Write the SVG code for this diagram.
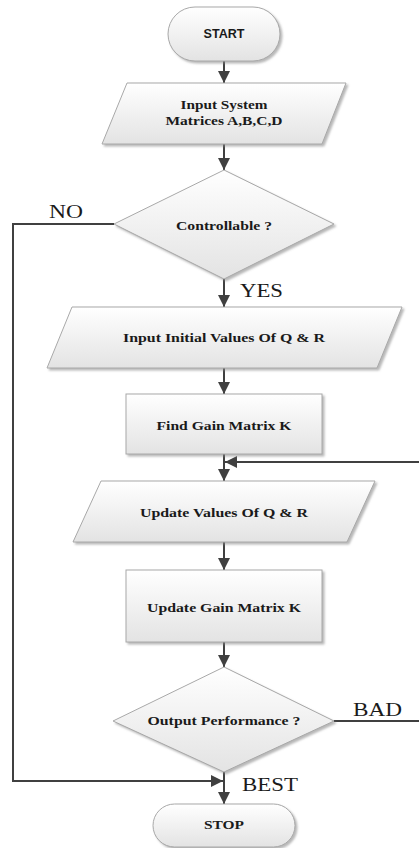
<svg xmlns="http://www.w3.org/2000/svg" width="419" height="848" viewBox="0 0 419 848">
<style>
.shape{fill:url(#g);stroke:#a8a8a8;stroke-width:1;filter:url(#sh)}
.t{font-family:"Liberation Serif","Times New Roman",serif;font-weight:bold;font-size:12px;fill:#1a1a1a;text-anchor:middle}
.ts{font-family:"Liberation Sans",Arial,sans-serif;font-weight:bold;font-size:12px;fill:#1a1a1a;text-anchor:middle}
.lbl{font-family:"Liberation Serif","Times New Roman",serif;font-size:19.5px;fill:#1a1a1a}
.c{fill:none;stroke:#404040;stroke-width:2}
</style>
<defs>
<linearGradient id="g" x1="0" y1="0" x2="0" y2="1">
<stop offset="0" stop-color="#ffffff"/>
<stop offset="1" stop-color="#e3e3e3"/>
</linearGradient>
<filter id="sh" x="-10%" y="-10%" width="130%" height="130%">
<feDropShadow dx="2" dy="2" stdDeviation="1.2" flood-color="#888" flood-opacity="0.6"/>
</filter>
<marker id="ah" markerUnits="userSpaceOnUse" markerWidth="12" markerHeight="12" viewBox="0 0 12 12" refX="12" refY="6" orient="auto">
<path d="M0,0 L12,6 L0,12 z" fill="#404040"/>
</marker>
</defs>

<g id="connectors">
<path class="c" d="M224,61 V83" marker-end="url(#ah)"/>
<path class="c" d="M224,144 V170" marker-end="url(#ah)"/>
<path class="c" d="M224,279 V307" marker-end="url(#ah)"/>
<path class="c" d="M224,368 V394" marker-end="url(#ah)"/>
<path class="c" d="M224,454 V481" marker-end="url(#ah)"/>
<path class="c" d="M224,542 V570" marker-end="url(#ah)"/>
<path class="c" d="M224,642 V667" marker-end="url(#ah)"/>
<path class="c" d="M224,772 V804" marker-end="url(#ah)"/>
<path class="c" d="M114,224 H13 V781 H223" marker-end="url(#ah)"/>
<path class="c" d="M334,721 H422 V462 H225" marker-end="url(#ah)"/>
<text class="lbl" x="49" y="218" textLength="34" lengthAdjust="spacingAndGlyphs">NO</text>
<text class="lbl" x="240" y="297" textLength="43" lengthAdjust="spacingAndGlyphs">YES</text>
<text class="lbl" x="353" y="716" textLength="49" lengthAdjust="spacingAndGlyphs">BAD</text>
<text class="lbl" x="242" y="791" textLength="56" lengthAdjust="spacingAndGlyphs">BEST</text>
</g>

<g id="start">
<rect class="shape" x="168" y="7" width="112" height="54" rx="27"/>
<text class="ts" x="224" y="38" textLength="41" lengthAdjust="spacingAndGlyphs">START</text>
</g>

<g id="input-system">
<polygon class="shape" points="127,83 346,83 322,144 102,144"/>
<text class="t" x="224" y="109" textLength="87" lengthAdjust="spacingAndGlyphs">Input System</text>
<text class="t" x="224" y="125" textLength="117" lengthAdjust="spacingAndGlyphs">Matrices A,B,C,D</text>
</g>

<g id="controllable">
<polygon class="shape" points="224,170 334,224 224,279 114,224"/>
<text class="t" x="224" y="230" textLength="96" lengthAdjust="spacingAndGlyphs">Controllable ?</text>
</g>

<g id="input-initial">
<polygon class="shape" points="72,307 402,307 377,368 47,368"/>
<text class="t" x="224" y="342" textLength="202" lengthAdjust="spacingAndGlyphs">Input Initial Values Of Q &amp; R</text>
</g>

<g id="find-gain">
<rect class="shape" x="126" y="394" width="196" height="60"/>
<text class="t" x="224" y="430" textLength="135" lengthAdjust="spacingAndGlyphs">Find Gain Matrix K</text>
</g>

<g id="update-values">
<polygon class="shape" points="101,481 375,481 347,542 73,542"/>
<text class="t" x="224" y="517" textLength="168" lengthAdjust="spacingAndGlyphs">Update Values Of Q &amp; R</text>
</g>

<g id="update-gain">
<rect class="shape" x="126" y="570" width="196" height="72"/>
<text class="t" x="224" y="612" textLength="154" lengthAdjust="spacingAndGlyphs">Update Gain Matrix K</text>
</g>

<g id="output-performance">
<polygon class="shape" points="224,667 334,721 224,772 113,721"/>
<text class="t" x="224" y="725" textLength="153" lengthAdjust="spacingAndGlyphs">Output Performance ?</text>
</g>

<g id="stop">
<rect class="shape" x="153" y="804" width="142" height="43" rx="21.5"/>
<text class="t" x="224" y="829" textLength="40" lengthAdjust="spacingAndGlyphs">STOP</text>
</g>
</svg>
